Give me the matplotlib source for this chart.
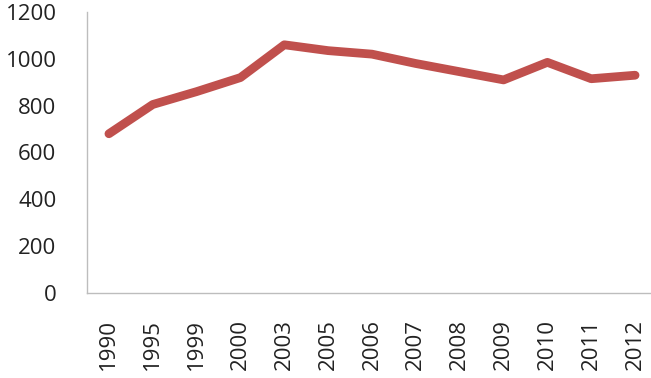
import matplotlib
matplotlib.use("Agg")
import matplotlib.pyplot as plt

years = ["1990", "1995", "1999", "2000", "2003", "2005", "2006",
         "2007", "2008", "2009", "2010", "2011", "2012"]
values = [680, 805, 860, 920, 1060, 1035, 1020, 980, 945, 910, 985, 915, 930]
y_ticks = [0, 200, 400, 600, 800, 1000, 1200]

plt.rcParams['font.family'] = ['Open Sans', 'DejaVu Sans']

fig = plt.figure(figsize=(6.51, 3.78), dpi=100)
ax = fig.add_axes([87 / 651, 85 / 378, 570 / 651, 281 / 378])

x = list(range(len(years)))
ax.plot(x, values, color='#C0504D', linewidth=6.3, solid_capstyle='round',
        solid_joinstyle='round')

ax.set_xlim(-0.5, len(years) - 0.5)
ax.set_ylim(0, 1200)
ax.set_yticks(y_ticks)
ax.set_xticks(x)
ax.set_xticklabels(years, rotation=90, va='top')

for s in ['top', 'right']:
    ax.spines[s].set_visible(False)
for s in ['left', 'bottom']:
    ax.spines[s].set_color('#BDBDBD')
    ax.spines[s].set_linewidth(1)

ax.tick_params(axis='y', length=0, pad=22, labelsize=16, labelcolor='#222222')
ax.tick_params(axis='x', length=0, pad=19, labelsize=16, labelcolor='#222222')

fig.savefig("out.png", dpi=100)
